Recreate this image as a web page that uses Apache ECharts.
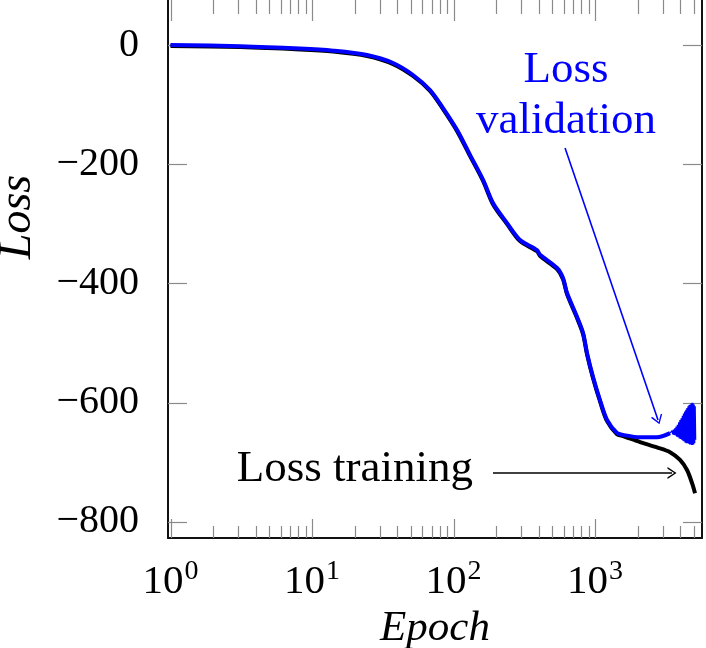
<!DOCTYPE html>
<html>
<head>
<meta charset="utf-8">
<script src="https://cdn.jsdelivr.net/npm/echarts@6/dist/echarts.min.js"></script>
<style>
  html, body { margin: 0; padding: 0; background: #fff; }
  #main { width: 706px; height: 648px; }
</style>
</head>
<body>
<div id="main"></div>
<script>
// values
const valEpoch = [1, 3.1, 8.2, 14.1, 24.5, 37.4, 51.7, 68.2, 84.3, 106, 131, 162, 190, 239, 295, 389, 409, 539, 594, 634, 746, 823, 878, 968, 1085, 1216, 1430, 1577, 2080, 2740, 3388]
const valLoss = [0, -2, -6, -9.6, -16.8, -30.2, -50.3, -75.5, -105.7, -142.6, -184.6, -226.5, -265, -298.7, -327, -344, -352, -374, -391, -416, -456, -483, -517, -557, -596, -629, -651, -654, -658, -658, -651]

// oscillating tail of the validation loss
const noiseEpoch = [3388, 3420, 3460, 3500, 3540, 3580, 3620, 3660, 3700, 3740, 3780, 3820, 3860, 3900, 3940, 3980, 4020, 4060, 4100, 4140, 4180, 4220, 4260, 4300, 4340, 4380, 4420, 4460, 4500, 4540, 4580, 4620, 4660, 4700, 4740, 4780, 4820, 4860, 4900, 4940, 4980, 5020, 5060, 5100, 5140]
const noiseLoss = [-651, -649, -652, -647, -653, -645, -654, -643, -655, -640, -657, -637, -658, -633, -660, -629, -661, -626, -662, -622, -664, -618, -665, -615, -667, -612, -668, -609, -668, -606, -669, -604, -670, -603, -670, -601, -671, -600, -671, -601, -670, -603, -668, -606, -662]

const trainEpoch = [1, 3.1, 8.2, 14.1, 24.5, 37.4, 51.7, 68.2, 84.3, 106, 131, 162, 190, 239, 295, 389, 409, 539, 594, 634, 746, 823, 878, 968, 1085, 1216, 1430, 1577, 2080, 2740, 3388, 3988, 4467, 4849, 5090]
const trainLoss = [-1.5, -3.5, -7.5, -11, -18.5, -32, -52, -77, -107.5, -144.5, -186.5, -228.5, -267, -300.5, -329, -346, -354, -376, -393, -418, -458, -485, -519, -559, -598, -631, -653, -656, -666, -675, -683, -696, -713, -735, -752]

const xMajor = [1, 10, 100, 1000]
const xMinor = [2, 3, 4, 5, 6, 7, 8, 9, 20, 30, 40, 50, 60, 70, 80, 90, 200, 300, 400, 500, 600, 700, 800, 900, 2000, 3000, 4000, 5000]
const yMajor = [-800, -600, -400, -200, 0]

// annotations: [epoch, loss]
const valTextAt = [624, -85]
const trainTextAt = [20.1, -711]
const valArrow = [[614, -172.7], [2786, -629]]
const trainArrow = [[190, -718], [3499, -718]]

const xMin = 0.96
const xMax = 5700
const yMin = -827
const yMax = 75.5

const FONT = 'Liberation Serif'
const tickColor = '#8a8a8a'
const arrowHead = 'path://M0,10 L5,0 L10,10 L8.6,10 L5,2.6 L1.4,10 Z'

function zip(xs, ys) {
  return xs.map((x, i) => [x, ys[i]])
}

function tickLine(x1, y1, x2, y2) {
  return {
    type: 'line',
    shape: { x1: x1, y1: y1, x2: x2, y2: y2 },
    style: { stroke: tickColor, lineWidth: 1.2 }
  }
}

// inward ticks on the bottom and top edges, pgfplots style
function xTicks(len, topLen) {
  return function (params, api) {
    const cs = params.coordSys
    const px = Math.round(api.coord([api.value(0), 0])[0]) + 0.5
    const bottom = cs.y + cs.height
    return {
      type: 'group',
      children: [
        tickLine(px, bottom, px, bottom - len),
        tickLine(px, cs.y, px, cs.y + topLen)
      ]
    }
  }
}

// inward ticks on the left and right edges
function yTicks(len) {
  return function (params, api) {
    const cs = params.coordSys
    const py = Math.round(api.coord([1, api.value(1)])[1]) + 0.5
    return {
      type: 'group',
      children: [
        tickLine(cs.x, py, cs.x + len, py),
        tickLine(cs.x + cs.width, py, cs.x + cs.width - len, py)
      ]
    }
  }
}

const chart = echarts.init(document.getElementById('main'), null, { renderer: 'canvas' })

chart.setOption({
  animation: false,
  backgroundColor: '#fff',
  textStyle: { fontFamily: FONT },
  grid: { left: 168, right: 4, top: 0, bottom: 110, containLabel: false, outerBoundsMode: 'none' },
  xAxis: {
    type: 'log',
    logBase: 10,
    min: xMin,
    max: xMax,
    position: 'bottom',
    axisLine: { show: true, onZero: false, lineStyle: { color: '#111', width: 2 } },
    splitLine: { show: false },
    axisTick: { show: false },
    axisLabel: {
      show: true,
      customValues: xMajor,
      margin: 20,
      formatter: function (v) {
        return '{b|10}{s|' + Math.round(Math.log10(v)) + '}'
      },
      rich: {
        b: { fontFamily: FONT, fontSize: 41, color: '#000' },
        s: { fontFamily: FONT, fontSize: 28, color: '#000', padding: [0, 0, 20, 1] }
      }
    },
    name: 'Epoch',
    nameLocation: 'middle',
    nameGap: 68,
    nameTextStyle: { fontFamily: FONT, fontStyle: 'italic', fontSize: 43, color: '#000' }
  },
  yAxis: [
    {
      type: 'value',
      min: yMin,
      max: yMax,
      position: 'left',
      axisLine: { show: true, onZero: false, lineStyle: { color: '#111', width: 2 } },
      splitLine: { show: false },
      axisTick: { show: false },
      axisLabel: {
        show: true,
        customValues: yMajor,
        margin: 29,
        fontFamily: FONT,
        fontSize: 40,
        color: '#000',
        formatter: function (v) {
          return String(v).replace('-', '\u2212')
        }
      }
    },
    {
      type: 'value',
      min: yMin,
      max: yMax,
      position: 'right',
      axisLine: { show: true, onZero: false, lineStyle: { color: '#111', width: 2 } },
      splitLine: { show: false },
      axisTick: { show: false },
      axisLabel: { show: false }
    }
  ],
  graphic: [
    {
      type: 'text',
      x: 18,
      y: 217,
      rotation: Math.PI / 2,
      style: {
        text: 'Loss',
        fontFamily: FONT,
        fontStyle: 'italic',
        fontSize: 46,
        fill: '#000',
        align: 'center',
        verticalAlign: 'middle'
      }
    }
  ],
  series: [
    {
      name: 'x major ticks',
      type: 'custom',
      silent: true,
      clip: false,
      renderItem: xTicks(19, 21),
      data: xMajor.map(v => [v, 0])
    },
    {
      name: 'x minor ticks',
      type: 'custom',
      silent: true,
      clip: false,
      renderItem: xTicks(12, 14),
      data: xMinor.map(v => [v, 0])
    },
    {
      name: 'y major ticks',
      type: 'custom',
      silent: true,
      clip: false,
      renderItem: yTicks(19),
      data: yMajor.map(v => [1, v])
    },
    {
      name: 'Loss training',
      type: 'line',
      data: zip(trainEpoch, trainLoss),
      smooth: 0.3,
      showSymbol: false,
      lineStyle: { color: '#000', width: 4 },
      markLine: {
        silent: true,
        symbol: ['none', arrowHead],
        symbolSize: [12, 9],
        label: { show: false },
        lineStyle: { color: '#000', width: 1.6, type: 'solid' },
        data: [[{ coord: trainArrow[0] }, { coord: trainArrow[1] }]]
      },
      markPoint: {
        silent: true,
        symbol: 'circle',
        symbolSize: 1,
        itemStyle: { color: 'rgba(0,0,0,0)' },
        label: {
          show: true,
          position: 'inside',
          formatter: 'Loss training',
          fontFamily: FONT,
          fontSize: 45,
          color: '#000'
        },
        data: [{ coord: trainTextAt }]
      }
    },
    {
      name: 'Loss validation',
      type: 'line',
      data: zip(valEpoch, valLoss),
      smooth: 0.3,
      showSymbol: false,
      lineStyle: { color: '#0000ff', width: 4 },
      markLine: {
        silent: true,
        symbol: ['none', arrowHead],
        symbolSize: [12, 9],
        label: { show: false },
        lineStyle: { color: '#0000ff', width: 1.6, type: 'solid' },
        data: [[{ coord: valArrow[0] }, { coord: valArrow[1] }]]
      },
      markPoint: {
        silent: true,
        symbol: 'circle',
        symbolSize: 1,
        itemStyle: { color: 'rgba(0,0,0,0)' },
        label: {
          show: true,
          position: 'inside',
          formatter: 'Loss\nvalidation',
          fontFamily: FONT,
          fontSize: 45,
          lineHeight: 51,
          color: '#0000ff'
        },
        data: [{ coord: valTextAt }]
      }
    },
    {
      name: 'Loss validation tail',
      type: 'line',
      data: zip(noiseEpoch, noiseLoss),
      showSymbol: false,
      lineStyle: { color: '#0000ff', width: 1.3 }
    }
  ]
})
</script>
</body>
</html>
